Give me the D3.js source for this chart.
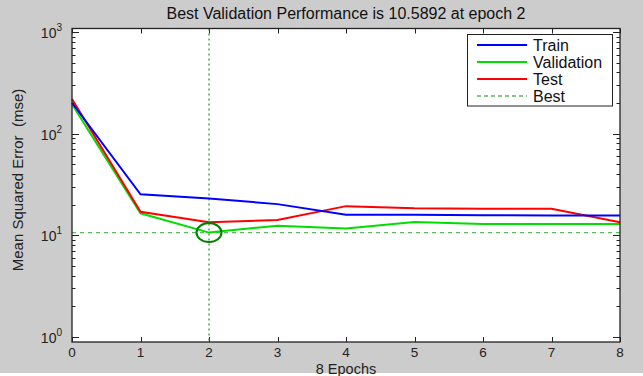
<!DOCTYPE html>
<html><head><meta charset="utf-8">
<script src="https://cdn.jsdelivr.net/npm/d3@7"></script>
<style>html,body{margin:0;padding:0;background:#cccccc;}svg{display:block;}</style>
</head><body><svg id="c" width="643" height="376"></svg>
<script>
const epochs = [0, 1, 2, 3, 4, 5, 6, 7, 8];
const trainPerf = [201, 25.2, 23.0, 20.2, 15.9, 15.9, 15.7, 15.6, 15.6];
const valPerf = [194, 16.4, 10.5892, 12.4, 11.6, 13.5, 12.9, 12.9, 12.9];
const testPerf = [219, 17.0, 13.4, 14.1, 19.3, 18.4, 18.2, 18.2, 13.4];
const bestEpoch = 2;
const bestValue = 10.5892;
const xTicks = [0, 1, 2, 3, 4, 5, 6, 7, 8];
const yMajorTicks = [1, 10, 100, 1000];
const yTickExp = ["0", "1", "2", "3"];
const legendLabels = ["Train", "Validation", "Test", "Best"];
const titleText = "Best Validation Performance is 10.5892 at epoch 2";
const xLabel = "8 Epochs";
const yLabel = "Mean Squared Error  (mse)";

const svg = d3.select("#c");
const L = 72, R = 620, T = 28.5, B = 342;
const x = d3.scaleLinear().domain([0, 8]).range([L, R]);
const y = d3.scaleLog().domain([1, 1000]).range([336.7, 32]);

svg.append("rect").attr("width", 643).attr("height", 376).attr("fill", "#cccccc");
svg.append("rect").attr("x", 0).attr("y", 373).attr("width", 643).attr("height", 3).attr("fill", "#ffffff");
svg.append("rect").attr("x", L).attr("y", T).attr("width", R - L).attr("height", B - T).attr("fill", "#ffffff");

const font = "'Liberation Sans', Arial, sans-serif";

// title
svg.append("text").attr("x", 346).attr("y", 19).attr("text-anchor", "middle")
  .attr("font-family", font).attr("font-size", 16).attr("fill", "#111").text(titleText);

// ticks
const tickG = svg.append("g").attr("stroke", "#222").attr("stroke-width", 1);
xTicks.forEach(t => {
  const xx = Math.round(x(t)) + 0.5;
  tickG.append("line").attr("x1", xx).attr("x2", xx).attr("y1", B).attr("y2", B - 5);
  tickG.append("line").attr("x1", xx).attr("x2", xx).attr("y1", T).attr("y2", T + 5);
});
const minor = [];
for (let d = 1; d < 1000; d *= 10) for (let k = 2; k <= 9; k++) minor.push(d * k);
minor.forEach(v => {
  const yy = Math.round(y(v)) + 0.5;
  tickG.append("line").attr("x1", L).attr("x2", L + 3.5).attr("y1", yy).attr("y2", yy);
  tickG.append("line").attr("x1", R).attr("x2", R - 3.5).attr("y1", yy).attr("y2", yy);
});
yMajorTicks.forEach(v => {
  const yy = Math.round(y(v)) + 0.5;
  tickG.append("line").attr("x1", L).attr("x2", L + 7).attr("y1", yy).attr("y2", yy);
  tickG.append("line").attr("x1", R).attr("x2", R - 7).attr("y1", yy).attr("y2", yy);
});

// tick labels
xTicks.forEach(t => {
  svg.append("text").attr("x", x(t)).attr("y", 356.5).attr("text-anchor", "middle")
    .attr("font-family", font).attr("font-size", 13.5).attr("fill", "#222").text(t);
});
yMajorTicks.forEach((v, i) => {
  const tx = svg.append("text").attr("x", 62).attr("y", y(v) + 6).attr("text-anchor", "end")
    .attr("font-family", font).attr("font-size", 14).attr("fill", "#222");
  tx.append("tspan").text("10");
  tx.append("tspan").attr("dy", -7).attr("font-size", 10).text(yTickExp[i]);
});

// axis labels
svg.append("text").attr("x", 346).attr("y", 374).attr("text-anchor", "middle")
  .attr("font-family", font).attr("font-size", 14.5).attr("fill", "#222").text(xLabel);
svg.append("text").attr("transform", "translate(23,180) rotate(-90)").attr("text-anchor", "middle")
  .style("white-space", "pre")
  .attr("font-family", font).attr("font-size", 15).attr("fill", "#222").text(yLabel);

// best lines
svg.append("line").attr("x1", L).attr("x2", R).attr("y1", y(bestValue)).attr("y2", y(bestValue))
  .attr("stroke", "#5cb85c").attr("stroke-width", 1.3).attr("stroke-dasharray", "4,4");
svg.append("line").attr("x1", x(bestEpoch)).attr("x2", x(bestEpoch)).attr("y1", T).attr("y2", B)
  .attr("stroke", "#2e9a2e").attr("stroke-width", 1.3).attr("stroke-dasharray", "2,3");

// series
const series = [
  {vals: trainPerf, color: "#0000ff"},
  {vals: valPerf, color: "#00dd00"},
  {vals: testPerf, color: "#ff0000"}
];
const line = d3.line().x(d => x(d[0])).y(d => y(d[1]));
[series[1], series[2], series[0]].forEach(s => {
  svg.append("path").attr("d", line(epochs.map((e, i) => [e, s.vals[i]])))
    .attr("fill", "none").attr("stroke", s.color).attr("stroke-width", 2);
});

// best circle
svg.append("ellipse").attr("cx", x(bestEpoch)).attr("cy", y(bestValue)).attr("rx", 12.5).attr("ry", 9.5)
  .attr("fill", "none").attr("stroke", "#008000").attr("stroke-width", 2);

// frame
svg.append("rect").attr("x", L).attr("y", T).attr("width", R - L).attr("height", B - T)
  .attr("fill", "none").attr("stroke", "#222").attr("stroke-width", 1.3);

// legend
const lg = svg.append("g");
lg.append("rect").attr("x", 467.5).attr("y", 34.5).attr("width", 145).attr("height", 71.5)
  .attr("fill", "#fff").attr("stroke", "#222").attr("stroke-width", 1);
const legColors = ["#0000ff", "#00dd00", "#ff0000", "#5cb85c"];
const legY = [45, 62, 79, 96];
legendLabels.forEach((lab, i) => {
  lg.append("line").attr("x1", 477).attr("x2", 527).attr("y1", legY[i]).attr("y2", legY[i])
    .attr("stroke", legColors[i]).attr("stroke-width", i === 3 ? 1.3 : 2)
    .attr("stroke-dasharray", i === 3 ? "4,3" : null);
  lg.append("text").attr("x", 533).attr("y", legY[i] + 5.5).attr("font-family", font)
    .attr("font-size", 16).attr("fill", "#111").text(lab);
});
</script></body></html>
